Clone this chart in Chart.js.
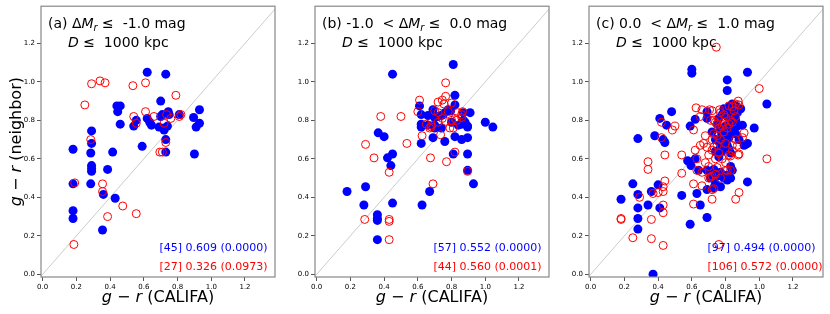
<!DOCTYPE html>
<html>
<head>
<meta charset="utf-8">
<script src="https://cdn.jsdelivr.net/npm/chart.js@4.4.1/dist/chart.umd.min.js"></script>
<style>
    html, body { margin: 0; padding: 0; background: #fff; overflow: hidden; }
    #wrap { position: relative; width: 830px; height: 314px; }
    #wrap canvas { position: absolute; top: 0; }
</style>
</head>
<body>
<div id="wrap">
    <canvas id="panelA" width="282" height="314" style="left:0px;width:282px;height:314px"></canvas>
    <canvas id="panelB" width="282" height="314" style="left:274px;width:282px;height:314px"></canvas>
    <canvas id="panelC" width="282" height="314" style="left:548px;width:282px;height:314px"></canvas>
</div>
<script>
// axis ticks shared by all three panels
const tickValues = [0.0, 0.2, 0.4, 0.6, 0.8, 1.0, 1.2];
const X_MIN = -0.01, X_MAX = 1.378;
const Y_MIN = -0.014, Y_MAX = 1.393;

// (a) dMr <= -1.0 : [g-r CALIFA, g-r neighbor]
const aBlue = [
    [0.62, 1.05], [0.73, 1.04], [0.70, 0.90], [0.44, 0.875], [0.46, 0.875], [0.445, 0.845],
    [0.46, 0.78], [0.54, 0.77], [0.555, 0.80], [0.62, 0.81], [0.635, 0.79], [0.645, 0.775],
    [0.69, 0.765], [0.70, 0.82], [0.71, 0.83], [0.72, 0.75], [0.72, 0.76], [0.745, 0.845],
    [0.75, 0.83], [0.81, 0.83], [0.73, 0.70], [0.73, 0.635], [0.59, 0.665], [0.895, 0.815],
    [0.91, 0.765], [0.93, 0.785], [0.93, 0.855], [0.90, 0.625], [0.29, 0.745], [0.29, 0.68],
    [0.285, 0.63], [0.29, 0.565], [0.29, 0.55], [0.29, 0.535], [0.285, 0.47], [0.18, 0.65],
    [0.18, 0.47], [0.18, 0.33], [0.18, 0.29], [0.415, 0.635], [0.385, 0.545], [0.36, 0.415],
    [0.43, 0.395], [0.355, 0.23], [0.74, 0.77]
];
const aRed = [
    [0.29, 0.99], [0.34, 1.005], [0.37, 0.995], [0.535, 0.98], [0.61, 0.995], [0.25, 0.88],
    [0.79, 0.93], [0.61, 0.845], [0.54, 0.82], [0.66, 0.82], [0.555, 0.785], [0.72, 0.785],
    [0.735, 0.83], [0.76, 0.81], [0.81, 0.82], [0.285, 0.70], [0.695, 0.635], [0.71, 0.635],
    [0.73, 0.685], [0.19, 0.475], [0.355, 0.47], [0.355, 0.43], [0.475, 0.355], [0.555, 0.315],
    [0.385, 0.30], [0.185, 0.155], [0.82, 0.83]
];

// (b) -1.0 < dMr <= 0.0
const bBlue = [
    [0.81, 1.09], [0.45, 1.04], [0.82, 0.93], [0.82, 0.88], [0.61, 0.875], [0.69, 0.855],
    [0.78, 0.855], [0.795, 0.85], [0.62, 0.83], [0.66, 0.825], [0.70, 0.815], [0.72, 0.82],
    [0.74, 0.825], [0.75, 0.83], [0.76, 0.84], [0.87, 0.84], [0.91, 0.84], [0.62, 0.78],
    [0.62, 0.765], [0.66, 0.775], [0.70, 0.775], [0.70, 0.76], [0.74, 0.76], [0.80, 0.79],
    [0.84, 0.775], [0.86, 0.78], [0.87, 0.80], [0.88, 0.79], [0.895, 0.77], [0.895, 0.765],
    [1.00, 0.79], [1.045, 0.765], [0.69, 0.71], [0.76, 0.69], [0.82, 0.715], [0.86, 0.70],
    [0.895, 0.71], [0.62, 0.68], [0.365, 0.735], [0.40, 0.715], [0.42, 0.605], [0.45, 0.625],
    [0.44, 0.565], [0.81, 0.625], [0.895, 0.625], [0.895, 0.54], [0.93, 0.47], [0.18, 0.43],
    [0.29, 0.455], [0.28, 0.36], [0.36, 0.31], [0.36, 0.29], [0.36, 0.28], [0.36, 0.18],
    [0.45, 0.37], [0.67, 0.43], [0.625, 0.36]
];
const bRed = [
    [0.765, 0.995], [0.61, 0.905], [0.72, 0.895], [0.765, 0.925], [0.745, 0.905], [0.755, 0.885],
    [0.80, 0.89], [0.60, 0.845], [0.70, 0.85], [0.72, 0.84], [0.78, 0.845], [0.835, 0.84],
    [0.865, 0.845], [0.86, 0.83], [0.38, 0.82], [0.50, 0.82], [0.68, 0.775], [0.72, 0.79],
    [0.745, 0.81], [0.765, 0.795], [0.80, 0.80], [0.81, 0.76], [0.82, 0.81], [0.86, 0.815],
    [0.67, 0.76], [0.68, 0.765], [0.625, 0.72], [0.735, 0.725], [0.535, 0.68], [0.29, 0.675],
    [0.34, 0.605], [0.675, 0.605], [0.77, 0.585], [0.82, 0.635], [0.43, 0.53], [0.895, 0.535],
    [0.69, 0.47], [0.285, 0.285], [0.43, 0.285], [0.43, 0.275], [0.43, 0.18], [0.79, 0.76],
    [0.83, 0.80], [0.65, 0.78]
];

// (c) 0.0 < dMr <= 1.0
const cBlue = [
    [0.60, 1.065], [0.60, 1.045], [0.93, 1.05], [0.81, 1.01], [0.81, 0.955], [1.045, 0.885],
    [0.48, 0.845], [0.41, 0.81], [0.62, 0.805], [0.69, 0.845], [0.69, 0.81], [0.59, 0.77],
    [0.45, 0.775], [0.38, 0.72], [0.43, 0.70], [0.44, 0.685], [0.28, 0.705], [0.97, 0.76],
    [0.93, 0.68], [0.91, 0.67], [0.72, 0.74], [0.74, 0.70], [0.76, 0.81], [0.78, 0.83],
    [0.80, 0.85], [0.82, 0.87], [0.84, 0.885], [0.86, 0.875], [0.89, 0.86], [0.80, 0.77],
    [0.82, 0.76], [0.84, 0.74], [0.83, 0.79], [0.86, 0.80], [0.87, 0.77], [0.90, 0.775],
    [0.78, 0.72], [0.80, 0.72], [0.86, 0.73], [0.88, 0.70], [0.75, 0.78], [0.81, 0.82],
    [0.77, 0.66], [0.78, 0.64], [0.81, 0.67], [0.82, 0.65], [0.83, 0.63], [0.76, 0.61],
    [0.74, 0.64], [0.575, 0.59], [0.62, 0.60], [0.595, 0.565], [0.64, 0.54], [0.69, 0.54],
    [0.73, 0.545], [0.77, 0.53], [0.84, 0.54], [0.71, 0.50], [0.75, 0.51], [0.79, 0.50],
    [0.81, 0.49], [0.83, 0.50], [0.93, 0.48], [0.69, 0.44], [0.73, 0.45], [0.77, 0.455],
    [0.74, 0.47], [0.63, 0.42], [0.54, 0.41], [0.65, 0.36], [0.59, 0.26], [0.69, 0.295],
    [0.40, 0.465], [0.36, 0.43], [0.25, 0.47], [0.28, 0.415], [0.18, 0.39], [0.34, 0.36],
    [0.41, 0.345], [0.28, 0.345], [0.28, 0.29], [0.28, 0.235], [0.37, 0.0], [0.79, 0.86],
    [0.83, 0.84], [0.85, 0.82], [0.87, 0.84], [0.77, 0.75], [0.80, 0.74], [0.82, 0.71],
    [0.85, 0.76], [0.76, 0.69], [0.79, 0.68], [0.83, 0.56], [0.73, 0.54], [0.81, 0.515],
    [0.92, 0.675]
];
const cRed = [
    [0.745, 1.18], [1.00, 0.965], [0.875, 0.90], [0.86, 0.885], [0.84, 0.87], [0.82, 0.875],
    [0.625, 0.865], [0.66, 0.855], [0.705, 0.855], [0.72, 0.85], [0.765, 0.855], [0.79, 0.83],
    [0.65, 0.82], [0.73, 0.80], [0.74, 0.79], [0.75, 0.78], [0.78, 0.77], [0.83, 0.80],
    [0.84, 0.79], [0.82, 0.78], [0.42, 0.79], [0.50, 0.77], [0.485, 0.75], [0.61, 0.75],
    [0.68, 0.72], [0.73, 0.73], [0.75, 0.72], [0.79, 0.74], [0.81, 0.76], [0.42, 0.71],
    [0.44, 0.62], [0.91, 0.735], [0.90, 0.71], [0.86, 0.70], [0.87, 0.67], [0.84, 0.64],
    [0.65, 0.67], [0.67, 0.68], [0.62, 0.645], [0.69, 0.66], [0.72, 0.645], [0.75, 0.67],
    [0.76, 0.63], [0.70, 0.62], [0.82, 0.62], [0.83, 0.615], [0.875, 0.62], [0.88, 0.625],
    [1.045, 0.60], [0.54, 0.62], [0.54, 0.525], [0.34, 0.585], [0.34, 0.545], [0.63, 0.54],
    [0.66, 0.53], [0.70, 0.50], [0.71, 0.505], [0.72, 0.51], [0.74, 0.52], [0.80, 0.54],
    [0.81, 0.54], [0.61, 0.47], [0.66, 0.46], [0.44, 0.485], [0.43, 0.455], [0.43, 0.43],
    [0.37, 0.42], [0.40, 0.425], [0.29, 0.40], [0.72, 0.44], [0.73, 0.445], [0.88, 0.425],
    [0.86, 0.39], [0.72, 0.39], [0.61, 0.365], [0.43, 0.36], [0.43, 0.32], [0.18, 0.29],
    [0.18, 0.285], [0.36, 0.285], [0.25, 0.19], [0.36, 0.185], [0.43, 0.15], [0.76, 0.155],
    [0.77, 0.84], [0.80, 0.815], [0.85, 0.85], [0.88, 0.88], [0.71, 0.80], [0.76, 0.76],
    [0.79, 0.79], [0.86, 0.82], [0.72, 0.70], [0.77, 0.70], [0.80, 0.68], [0.73, 0.66],
    [0.78, 0.60], [0.80, 0.58], [0.75, 0.555], [0.83, 0.54], [0.77, 0.50], [0.68, 0.58],
    [0.63, 0.60], [0.70, 0.56], [0.74, 0.60], [0.84, 0.67]
];

// panel texts
const panelLabels = ['(a) ', '(b) -1.0  < ', '(c) 0.0  < '];
const panelLimits = ['-1.0 mag', '0.0 mag', '1.0 mag'];
const distLabel = '1000 kpc';
const blueStats = ['[45] 0.609 (0.0000)', '[57] 0.552 (0.0000)', '[97] 0.494 (0.0000)'];
const redStats = ['[27] 0.326 (0.0973)', '[44] 0.560 (0.0001)', '[106] 0.572 (0.0000)'];

const FONT = "'DejaVu Sans', sans-serif";
const BLUE = '#0000ff';
const RED = '#ff0000';

/**
 * Draw a row of text pieces, some italic / subscript (mathtext look)
 */
function drawRuns(ctx, x, y, runs, size, align) {
    const fontOf = (r) => (r.it ? 'italic ' : '') + (r.sub ? size * 0.7 : size) + 'px ' + FONT;
    let total = 0;
    runs.forEach((r) => { ctx.font = fontOf(r); total += ctx.measureText(r.t).width; });
    let cx = align === 'center' ? x - total / 2 : x;
    ctx.textAlign = 'left';
    runs.forEach((r) => {
        ctx.font = fontOf(r);
        ctx.fillText(r.t, cx, r.sub ? y + size * 0.22 : y);
        cx += ctx.measureText(r.t).width;
    });
}

function makePanel(canvasId, idx, blue, red, showYLabel) {
    const textPlugin = {
        id: 'panelText',
        afterDatasetsDraw(chart) {
            const ctx = chart.ctx;
            const a = chart.chartArea;
            ctx.save();
            // frame (all four spines)
            ctx.strokeStyle = '#888';
            ctx.lineWidth = 1.2;
            ctx.strokeRect(a.left, a.top, a.right - a.left, a.bottom - a.top);

            ctx.fillStyle = '#000';
            ctx.textBaseline = 'alphabetic';
            drawRuns(ctx, a.left + 7, 28, [
                { t: panelLabels[idx] }, { t: 'Δ' }, { t: 'M', it: true }, { t: 'r', it: true, sub: true },
                { t: ' ≤  ' }, { t: panelLimits[idx] }
            ], 14, 'left');
            drawRuns(ctx, a.left + 27, 47, [{ t: 'D', it: true }, { t: ' ≤  ' + distLabel }], 14, 'left');

            // correlation stats
            ctx.font = '11px ' + FONT;
            ctx.textAlign = 'left';
            ctx.fillStyle = BLUE;
            ctx.fillText(blueStats[idx], a.left + 118.5, 251);
            ctx.fillStyle = RED;
            ctx.fillText(redStats[idx], a.left + 118.5, 270);

            // axis titles
            ctx.fillStyle = '#000';
            const xl = [{ t: 'g', it: true }, { t: ' − ' }, { t: 'r', it: true }, { t: ' (CALIFA)' }];
            drawRuns(ctx, (a.left + a.right) / 2, 302, xl, 16, 'center');
            if (showYLabel) {
                ctx.translate(21, (a.top + a.bottom) / 2);
                ctx.rotate(-Math.PI / 2);
                const yl = [{ t: 'g', it: true }, { t: ' − ' }, { t: 'r', it: true }, { t: ' (neighbor)' }];
                drawRuns(ctx, 0, 0, yl, 16, 'center');
            }
            ctx.restore();
        },
    };

    const axis = (min, max, fit) => ({
        type: 'linear',
        min: min,
        max: max,
        afterFit: fit,
        afterBuildTicks: (s) => { s.ticks = tickValues.map((v) => ({ value: v })); },
        ticks: {
            font: { family: FONT, size: 7 },
            color: '#000',
            padding: 2,
            autoSkip: false,
            maxRotation: 0,
            callback: (v) => Number(v).toFixed(1),
        },
        grid: { drawOnChartArea: false, drawTicks: true, tickLength: 4, tickColor: '#555', lineWidth: 1 },
        border: { display: false },
    });

    return new Chart(document.getElementById(canvasId), {
        type: 'scatter',
        data: {
            datasets: [
                {
                    type: 'line',
                    data: [{ x: -0.2, y: -0.2 }, { x: 1.6, y: 1.6 }],
                    borderColor: '#cccccc',
                    borderWidth: 1,
                    pointRadius: 0,
                    order: 3,
                },
                {
                    data: blue.map(([x, y]) => ({ x, y })),
                    pointRadius: 4.5,
                    pointBackgroundColor: BLUE,
                    pointBorderWidth: 0,
                    order: 2,
                },
                {
                    data: red.map(([x, y]) => ({ x, y })),
                    pointRadius: 4,
                    pointBackgroundColor: 'rgba(0,0,0,0)',
                    pointBorderColor: RED,
                    pointBorderWidth: 1,
                    order: 1,
                },
            ],
        },
        options: {
            responsive: false,
            animation: false,
            events: [],
            layout: { padding: { left: 0, right: 7, top: 5, bottom: 0 } },
            plugins: { legend: { display: false }, tooltip: { enabled: false } },
            scales: {
                x: axis(X_MIN, X_MAX, (s) => { s.height = 37; }),
                y: axis(Y_MIN, Y_MAX, (s) => { s.width = 41; }),
            },
        },
        plugins: [textPlugin],
    });
}

makePanel('panelA', 0, aBlue, aRed, true);
makePanel('panelB', 1, bBlue, bRed, false);
makePanel('panelC', 2, cBlue, cRed, false);
</script>
</body>
</html>
